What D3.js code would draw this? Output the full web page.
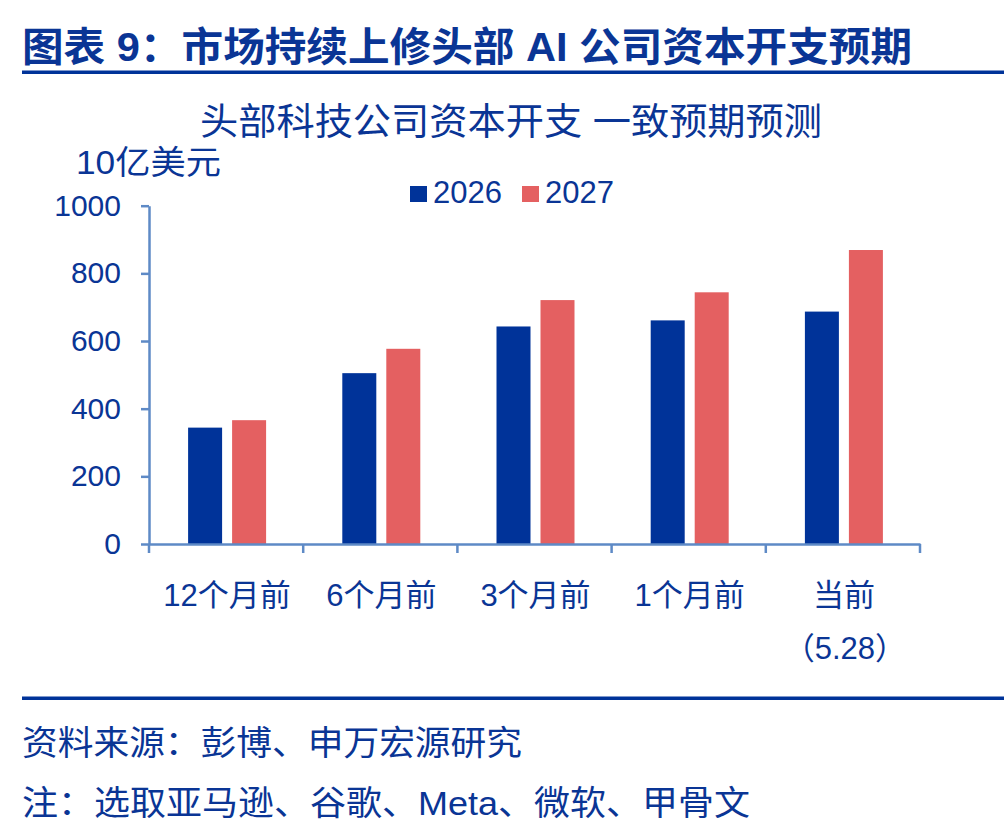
<!DOCTYPE html>
<html><head><meta charset="utf-8">
<script src="https://cdn.jsdelivr.net/npm/d3@7/dist/d3.min.js"></script>
<style>
html,body{margin:0;padding:0;background:#fff;}
svg text{font-family:"Liberation Sans",Arial,"Noto Sans CJK SC",sans-serif;}
</style></head>
<body><svg id="chart" width="1004" height="832"></svg>
<script>
const categories = ["12个月前","6个月前","3个月前","1个月前","当前"];
const categorySub = ["","","","","（5.28）"];
const series = ["2026","2027"];
const values2026 = [344, 505, 643, 661, 687];
const values2027 = [366, 577, 721, 744, 869];
const yTicks = [0, 200, 400, 600, 800, 1000];
const headerTitle = "图表 9：市场持续上修头部 AI 公司资本开支预期";
const chartTitle = "头部科技公司资本开支 一致预期预测";
const unitLabel = "10亿美元";
const sourceText = "资料来源：彭博、申万宏源研究";
const noteText = "注：选取亚马逊、谷歌、Meta、微软、甲骨文";

const textColor = "#0A3595";
const axisColor = "#5E8AC6";
const colors = {"2026":"#003399","2027":"#E46061"};

const svg = d3.select("#chart");

// header
svg.append("text").attr("x",22).attr("y",61).attr("font-size",40).attr("font-weight","bold")
  .attr("fill",textColor).attr("textLength",890).attr("lengthAdjust","spacingAndGlyphs").text(headerTitle);
svg.append("rect").attr("x",22).attr("y",70.5).attr("width",982).attr("height",3.5).attr("fill","#003399");

// chart title
svg.append("text").attr("x",200).attr("y",135).attr("font-size",37)
  .attr("fill",textColor).attr("textLength",622).attr("lengthAdjust","spacingAndGlyphs").text(chartTitle);

svg.append("text").attr("x",76).attr("y",174).attr("font-size",33)
  .attr("fill",textColor).attr("textLength",145).attr("lengthAdjust","spacingAndGlyphs").text(unitLabel);

// scales
const x = d3.scaleBand().domain(categories).range([149, 920]).padding(0);
const xs = d3.scaleBand().domain(series).range([-38, 40]).paddingInner(10/44).paddingOuter(0);
const y = d3.scaleLinear().domain([0,1000]).range([544, 205.7]);

// bars
const data = categories.map((c,i)=>({cat:c, vals:[{s:"2026",v:values2026[i]},{s:"2027",v:values2027[i]}]}));
const g = svg.append("g");
data.forEach(d=>{
  const cx = x(d.cat) + x.bandwidth()/2;
  g.selectAll(null).data(d.vals).enter().append("rect")
    .attr("x", e=>cx + xs(e.s))
    .attr("width", xs.bandwidth())
    .attr("y", e=>y(e.v))
    .attr("height", e=>y(0)-y(e.v))
    .attr("fill", e=>colors[e.s]);
});

// y axis
const yAxis = d3.axisLeft(y).tickValues(yTicks).tickFormat(d3.format("d")).tickSize(8).tickSizeOuter(0).tickPadding(20);
const ya = svg.append("g").attr("transform","translate(149,0)").call(yAxis);
ya.select(".domain").attr("stroke",axisColor).attr("stroke-width",2.5);
ya.selectAll(".tick line").attr("stroke",axisColor).attr("stroke-width",2.5);
ya.selectAll(".tick text").attr("fill",textColor).attr("font-size",30)
  .attr("font-family",'"Liberation Sans",Arial,sans-serif');

// x axis
const xAxis = d3.axisBottom(x).tickSize(0).tickFormat("");
const xa = svg.append("g").attr("transform","translate(0,544)").call(xAxis);
xa.select(".domain").attr("stroke",axisColor).attr("stroke-width",2.5);
xa.selectAll(".tick").remove();
const bounds = categories.map(c=>x(c)).concat([x(categories[categories.length-1])+x.bandwidth()]);
xa.selectAll(".sep").data(bounds).enter().append("line")
  .attr("x1",d=>d).attr("x2",d=>d).attr("y1",0).attr("y2",9)
  .attr("stroke",axisColor).attr("stroke-width",2.5);

// category labels
categories.forEach((c,i)=>{
  const cx = x(c) + x.bandwidth()/2 + 1;
  svg.append("text").attr("x",cx).attr("y",606).attr("text-anchor","middle")
    .attr("font-size",31).attr("fill",textColor).text(c);
  if (categorySub[i]) {
    svg.append("text").attr("x",cx+1).attr("y",659).attr("text-anchor","middle")
      .attr("font-size",31).attr("fill",textColor).text(categorySub[i]);
  }
});

// legend
const legend = svg.append("g");
const legendX = [410, 522];
series.forEach((s,i)=>{
  legend.append("rect").attr("x",legendX[i]).attr("y",186).attr("width",17).attr("height",16).attr("fill",colors[s]);
  legend.append("text").attr("x",legendX[i]+23).attr("y",203).attr("font-size",31)
    .attr("fill",textColor).text(s);
});

// footer
svg.append("rect").attr("x",22).attr("y",696.5).attr("width",982).attr("height",3.5).attr("fill","#003399");
svg.append("text").attr("x",22).attr("y",755).attr("font-size",34)
  .attr("fill",textColor).attr("textLength",500).attr("lengthAdjust","spacingAndGlyphs").text(sourceText);
svg.append("text").attr("x",22).attr("y",815).attr("font-size",34)
  .attr("fill",textColor).attr("textLength",728).attr("lengthAdjust","spacingAndGlyphs").text(noteText);
</script></body></html>
